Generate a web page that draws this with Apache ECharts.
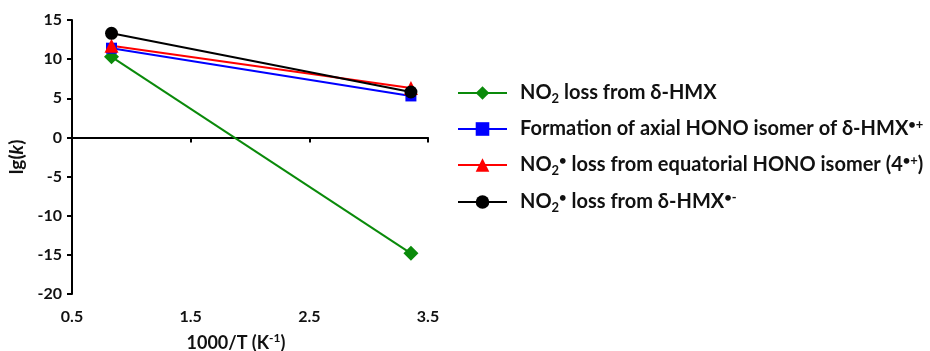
<!DOCTYPE html>
<html><head><meta charset="utf-8">
<script src="https://cdn.jsdelivr.net/npm/echarts@6/dist/echarts.min.js"></script>
<style>html,body{margin:0;padding:0;background:#fff}#c{width:930px;height:351px}</style>
</head><body><div id="c"></div>
<script>
const xValues = [0.833, 3.356];
const greenValues = [10.3, -14.8];
const blueValues = [11.4, 5.3];
const redValues = [11.7, 6.3];
const blackValues = [13.3, 5.8];
const seriesNames = ['NO2 loss from δ-HMX', 'Formation of axial HONO isomer of δ-HMX•+', 'NO2• loss from equatorial HONO isomer (4•+)', 'NO2• loss from δ-HMX•-'];
const legendRich = [
  '{n|NO}{sub|2}{n| loss from δ-HMX}',
  '{n|Formation of axial HONO isomer of δ-HMX}{sup|•+}',
  '{n|NO}{sub|2}{sup|•}{n| loss from equatorial HONO isomer (4}{sup|•+}{n|)}',
  '{n|NO}{sub|2}{sup|•}{n| loss from δ-HMX}{sup|•-}'
];
const FONT = 'Lato';
const chart = echarts.init(document.getElementById('c'));
function mk(name, vals, color, symbol, size) {
  return {
    name: name, type: 'line', data: xValues.map((x, i) => [x, vals[i]]),
    symbol: symbol, symbolSize: size,
    lineStyle: {color: color, width: 2}, itemStyle: {color: color},
    emphasis: {disabled: true}
  };
}
function richSet(fs, sfs) {
  return {
    n: {fontFamily: FONT, fontWeight: 'bold', fontSize: fs, color: '#111', lineHeight: 22},
    sub: {fontFamily: FONT, fontWeight: 'bold', fontSize: sfs, color: '#111', lineHeight: 22, padding: [11, 0, 0, 0]},
    sup: {fontFamily: FONT, fontWeight: 'bold', fontSize: sfs, color: '#111', lineHeight: 22, padding: [0, 0, 9, 0]},
    i: {fontFamily: FONT, fontWeight: 'bold', fontStyle: 'italic', fontSize: fs, color: '#111', lineHeight: 22}
  };
}
chart.setOption({
  animation: false,
  textStyle: {fontFamily: FONT},
  grid: {left: 72, right: 502, top: 20, bottom: 57, outerBoundsMode: 'none', containLabel: false},
  legend: {
    orient: 'vertical', left: 452, top: 76, itemGap: 13, itemWidth: 49, itemHeight: 17,
    data: seriesNames,
    formatter: function (name) { return legendRich[seriesNames.indexOf(name)]; },
    textStyle: {rich: richSet(20, 13), padding: [0, 0, 0, 8]}
  },
  xAxis: {
    type: 'value', min: 0.5, max: 3.5, interval: 1,
    axisLine: {lineStyle: {color: '#000', width: 2}},
    axisTick: {show: true, length: 5, lineStyle: {color: '#000', width: 2}},
    splitLine: {show: false},
    axisLabel: {color: '#111', fontFamily: FONT, fontWeight: 'bold', fontSize: 16, margin: 15, formatter: v => v.toFixed(1)},
    name: '{n|1000/T (K}{sup|-1}{n|)}', nameLocation: 'middle', nameGap: 38,
    nameTextStyle: {rich: richSet(18, 12), padding: [0, 28, 0, 0]}
  },
  yAxis: {
    type: 'value', min: -20, max: 15, interval: 5,
    axisLine: {show: true, lineStyle: {color: '#000', width: 2}},
    axisTick: {show: true, length: 5, lineStyle: {color: '#000', width: 2}},
    splitLine: {show: false},
    axisLabel: {color: '#111', fontFamily: FONT, fontWeight: 'bold', fontSize: 16, margin: 10},
    name: '{n|lg(}{i|k}{n|)}', nameLocation: 'middle', nameGap: 44, nameRotate: 90,
    nameTextStyle: {rich: richSet(19, 12)}
  },
  series: [
    mk(seriesNames[0], greenValues, '#0a8a0a', 'diamond', 15),
    mk(seriesNames[1], blueValues, '#0000ff', 'rect', 11),
    mk(seriesNames[2], redValues, '#ff0000', 'triangle', 14),
    mk(seriesNames[3], blackValues, '#000000', 'circle', 13)
  ]
});
</script></body></html>
